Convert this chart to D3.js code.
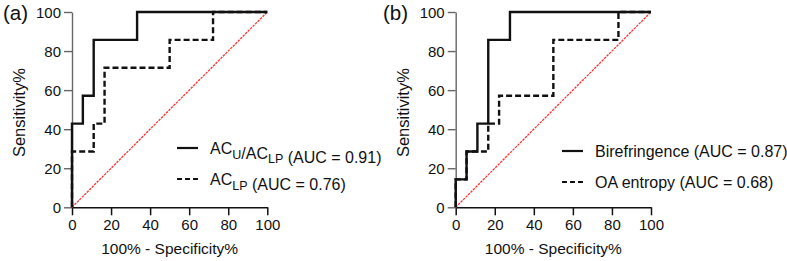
<!DOCTYPE html>
<html>
<head>
<meta charset="utf-8">
<script src="https://cdn.jsdelivr.net/npm/d3@7"></script>
<style>
  body { margin: 0; background: #fff; }
  svg text { font-family: "Liberation Sans", Arial, sans-serif; fill: #111; }
</style>
</head>
<body>
<div id="chart"></div>
<script>
// tick values shared by both panels
const ticks = [0, 20, 40, 60, 80, 100];

// panel (a): ROC corners (false positive %, true positive %)
const aSolidFpr = [0, 0, 5.56, 11.11, 33.33, 100];
const aSolidTpr = [0, 42.86, 57.14, 85.71, 100, 100];
const aDashFpr = [0, 0, 11.11, 16.67, 50, 72.22, 100];
const aDashTpr = [0, 28.57, 42.86, 71.43, 85.71, 100, 100];

// panel (b)
const bSolidFpr = [0, 0, 5.56, 11.11, 16.67, 27.78, 100];
const bSolidTpr = [0, 14.29, 28.57, 42.86, 85.71, 100, 100];
const bDashFpr = [0, 0, 5.56, 16.67, 22.22, 50, 83.33, 100];
const bDashTpr = [0, 14.29, 28.57, 42.86, 57.14, 85.71, 100, 100];

const W = 787, H = 261;
const svg = d3.select("#chart").append("svg")
    .attr("width", W)
    .attr("height", H);

function zip(xs, ys) {
    return xs.map((x, i) => ({x: x, y: ys[i]}));
}

function drawPanel(opt) {
    let x = d3.scaleLinear().domain([0, 100]).range([opt.left, opt.left + 195.3]);
    let y = d3.scaleLinear().domain([0, 100]).range([207.3, 12]);
    let g = svg.append("g");

    // x axis
    let xa = g.append("g")
        .attr("transform", "translate(0," + y(0) + ")")
        .call(d3.axisBottom(x).tickValues(ticks).tickSize(8).tickSizeOuter(0).tickPadding(4));
    xa.selectAll("path, line").attr("stroke", "#111").attr("stroke-width", 1.5);
    xa.selectAll("text").style("font-size", "15px").attr("fill", "#111");

    // y axis
    let ya = g.append("g")
        .attr("transform", "translate(" + x(0) + ",0)")
        .call(d3.axisLeft(y).tickValues(ticks).tickSize(8).tickSizeOuter(0).tickPadding(3));
    ya.selectAll("path, line").attr("stroke", "#666").attr("stroke-width", 1.4);
    ya.selectAll("text").style("font-size", "15px").attr("fill", "#111").attr("dy", "0.34em");

    // chance line
    g.append("path")
        .attr("d", d3.line().x(d => x(d.x)).y(d => y(d.y))(zip([0, 100], [0, 100])))
        .attr("fill", "none")
        .attr("stroke", "#ff3030")
        .attr("stroke-width", 1.3)
        .attr("stroke-dasharray", "2.5,1");

    let line = d3.line()
        .x(d => x(d.x))
        .y(d => y(d.y))
        .curve(d3.curveStepAfter);

    g.append("path")
        .attr("d", line(zip(opt.dashFpr, opt.dashTpr)))
        .attr("fill", "none")
        .attr("stroke", "#111")
        .attr("stroke-width", 2.4)
        .attr("stroke-dasharray", "6,3");

    g.append("path")
        .attr("d", line(zip(opt.solidFpr, opt.solidTpr)))
        .attr("fill", "none")
        .attr("stroke", "#111")
        .attr("stroke-width", 2.4);

    // axis titles
    g.append("text")
        .attr("x", (x(0) + x(100)) / 2)
        .attr("y", 254)
        .attr("text-anchor", "middle")
        .style("font-size", "15.5px")
        .text("100% - Specificity%");

    g.append("text")
        .attr("transform", "translate(" + (x(0) - 47) + "," + ((y(0) + y(100)) / 2 + 3) + ")rotate(-90)")
        .attr("text-anchor", "middle")
        .style("font-size", "16.5px")
        .text("Sensitivity%");

    // panel letter
    g.append("text")
        .attr("x", opt.labelX)
        .attr("y", 20)
        .style("font-size", "20.5px")
        .text(opt.label);

    // legend
    opt.legend.forEach(function(item, i) {
        let ly = opt.legendY + i * 31;
        g.append("line")
            .attr("x1", opt.legendX)
            .attr("x2", opt.legendX + 21)
            .attr("y1", ly)
            .attr("y2", ly)
            .attr("stroke", "#111")
            .attr("stroke-width", 2.2)
            .attr("stroke-dasharray", item.dash ? "5,3" : null);
        let t = g.append("text")
            .attr("x", opt.legendX + 33)
            .attr("y", ly + 6)
            .style("font-size", "16px");
        item.parts.forEach(function(p) {
            if (p.sub) {
                t.append("tspan").attr("dy", 4.5).style("font-size", "12.5px").text(p.sub);
                t.append("tspan").attr("dy", -4.5).text("");
            } else {
                t.append("tspan").text(p.text);
            }
        });
    });
}

drawPanel({
    left: 72, label: "(a)", labelX: 3,
    solidFpr: aSolidFpr, solidTpr: aSolidTpr,
    dashFpr: aDashFpr, dashTpr: aDashTpr,
    legendX: 177, legendY: 148,
    legend: [
        {dash: false, parts: [{text: "AC"}, {sub: "U"}, {text: "/AC"}, {sub: "LP"}, {text: " (AUC = 0.91)"}]},
        {dash: true, parts: [{text: "AC"}, {sub: "LP"}, {text: " (AUC = 0.76)"}]}
    ]
});

drawPanel({
    left: 455.7, label: "(b)", labelX: 383,
    solidFpr: bSolidFpr, solidTpr: bSolidTpr,
    dashFpr: bDashFpr, dashTpr: bDashTpr,
    legendX: 562, legendY: 151,
    legend: [
        {dash: false, parts: [{text: "Birefringence (AUC = 0.87)"}]},
        {dash: true, parts: [{text: "OA entropy (AUC = 0.68)"}]}
    ]
});
</script>
</body>
</html>
